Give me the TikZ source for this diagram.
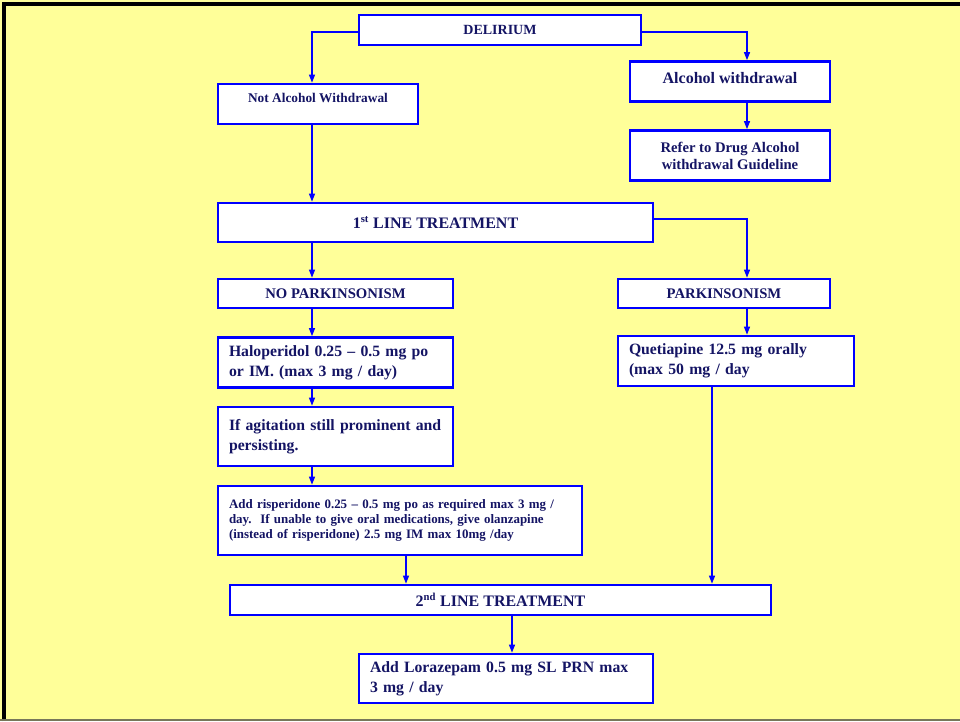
\documentclass[tikz,border=0pt]{standalone}
\usepackage{fontspec}
\setmainfont{Liberation Serif}
\usetikzlibrary{arrows.meta}
\definecolor{bgy}{RGB}{255,255,153}
\definecolor{navy}{RGB}{20,20,100}
\definecolor{bblue}{RGB}{0,0,255}
\definecolor{edgeolive}{RGB}{120,120,90}
\begin{document}
\begin{tikzpicture}[x=0.75pt,y=-0.75pt,
  flowbox/.style={draw=bblue, line width=2pt, fill=white, text=navy, inner sep=0pt},
  cbox/.style 2 args={flowbox, minimum width=#1, minimum height=#2},
  lbox/.style 2 args={flowbox, text width=#1, minimum height=#2, inner xsep=8.25pt, inner ysep=0pt, align=left},
  ftwelve/.style={font=\bfseries\fontsize{12}{15}\selectfont},
  ltwelve/.style={font=\bfseries\fontsize{11.8}{15.3}\selectfont},
  feleven/.style={font=\bfseries\fontsize{11}{12.75}\selectfont},
  arr/.style={draw=bblue, line width=0.9pt, -{Triangle[length=6pt,width=4.5pt]}}]
\useasboundingbox (0,0) rectangle (960,721);
\fill[bgy] (0,0) rectangle (960,721);
\draw[black, line width=3pt] (4,721) -- (4,4) -- (960,4);
\draw[edgeolive, line width=1pt] (0,720) -- (960,720);

% nodes
\node[cbox={211.5pt}{22.5pt}, font=\bfseries\fontsize{10.5}{12}\selectfont] (del) at (500,30) {DELIRIUM};
\node[cbox={150pt}{30pt}, text height=7pt, text depth=9.5pt, font=\bfseries\fontsize{10}{12}\selectfont] (naw) at (318,104) {Not Alcohol Withdrawal};
\node[cbox={150pt}{30pt}, ftwelve, text height=10pt, text depth=6.5pt] (aw) at (730,81.5) {Alcohol withdrawal};
\node[cbox={150pt}{37.5pt}, feleven, align=center] (ref) at (730,155.5) {Refer to Drug Alcohol\\withdrawal Guideline};
\node[cbox={326.25pt}{29.25pt}, ftwelve] (first) at (435.5,222.5) {1\textsuperscript{st} LINE TREATMENT};
\node[cbox={176.25pt}{21.75pt}, feleven] (nop) at (335.5,293.5) {NO PARKINSONISM};
\node[cbox={159pt}{21.75pt}, feleven] (par) at (724,293.5) {PARKINSONISM};
\node[lbox={159.75pt}{37.5pt}, ltwelve] (hal) at (335.5,362.5) {\mbox{Haloperidol 0.25 -- 0.5 mg po}\\or IM. (max 3 mg / day)};
\node[lbox={159.75pt}{44.25pt}, ltwelve] (agi) at (335.5,436.5) {\mbox{If agitation still prominent and}\\persisting.};
\node[lbox={256.5pt}{51.75pt}, font=\bfseries\fontsize{9.7}{11.4}\selectfont] (ris) at (400,520.5) {\mbox{Add risperidone 0.25 -- 0.5 mg po as required max 3 mg /}\\\mbox{day.\ \ If unable to give oral medications, give olanzapine}\\\mbox{(instead of risperidone) 2.5 mg IM max 10mg /day}};
\node[lbox={160.5pt}{37.5pt}, ltwelve] (que) at (736,361) {Quetiapine 12.5 mg orally\\(max 50 mg / day};
\node[cbox={405.75pt}{22.5pt}, ftwelve] (second) at (500.5,600) {2\textsuperscript{nd} LINE TREATMENT};
\node[lbox={204pt}{36.75pt}, ltwelve] (lor) at (506,678.5) {\mbox{Add Lorazepam 0.5 mg SL PRN max}\\3 mg / day};

% guide coordinates
\coordinate (xa) at (312,0);
\coordinate (xb) at (747,0);
\coordinate (xc) at (406,0);
\coordinate (xd) at (712,0);
\coordinate (xe) at (512,0);

% connectors
\draw[arr] ([yshift=-1.5pt]del.west) -| (naw.north -| xa);
\draw[arr] ([yshift=-1.5pt]del.east) -| (aw.north -| xb);
\draw[arr] (aw.south -| xb) -- (ref.north -| xb);
\draw[arr] (naw.south -| xa) -- (first.north -| xa);
\draw[arr] ([yshift=2.6pt]first.east) -| (par.north -| xb);
\draw[arr] (first.south -| xa) -- (nop.north -| xa);
\draw[arr] (nop.south -| xa) -- (hal.north -| xa);
\draw[arr] (hal.south -| xa) -- (agi.north -| xa);
\draw[arr] (agi.south -| xa) -- (ris.north -| xa);
\draw[arr] (ris.south -| xc) -- (second.north -| xc);
\draw[arr] (que.south -| xd) -- (second.north -| xd);
\draw[arr] (second.south -| xe) -- (lor.north -| xe);
\draw[arr] (par.south -| xb) -- (que.north -| xb);
\end{tikzpicture}
\end{document}
